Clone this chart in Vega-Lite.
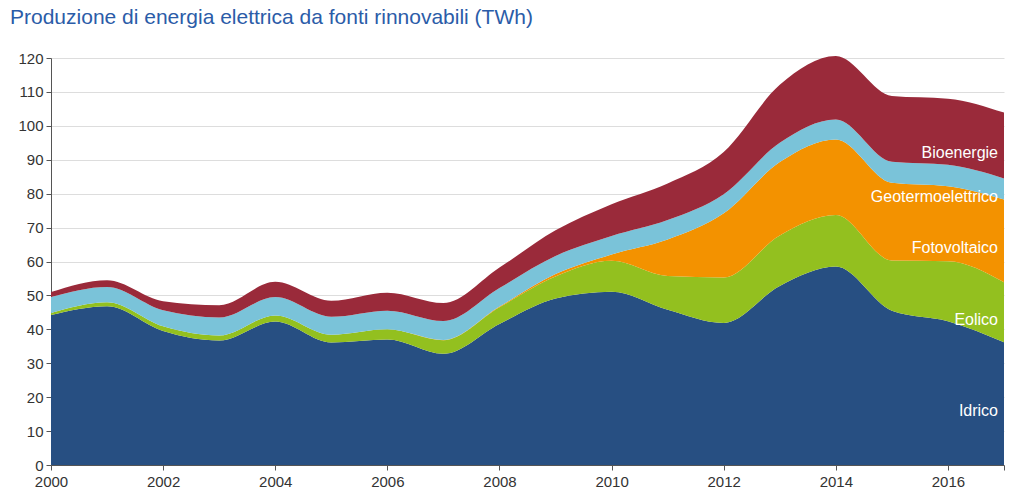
{
  "$schema": "https://vega.github.io/schema/vega-lite/v6.json",
  "width": 953,
  "height": 407,
  "autosize": {"type": "none"},
  "padding": {"left": 51, "top": 58, "right": 20, "bottom": 31},
  "background": "white",
  "title": {
    "text": "Produzione di energia elettrica da fonti rinnovabili (TWh)",
    "anchor": "start",
    "frame": "group",
    "dx": -41,
    "offset": 23,
    "font": "Liberation Sans",
    "fontSize": 21,
    "fontWeight": "normal",
    "color": "#2b5ca8"
  },
  "config": {
    "view": {"stroke": null},
    "axis": {
      "labelFont": "Liberation Sans",
      "labelFontSize": 15,
      "labelColor": "#333333",
      "domainColor": "#555555",
      "tickColor": "#555555",
      "tickSize": 5,
      "labelOverlap": false,
      "labelFlush": false,
      "title": null
    }
  },
  "datasets": {
    "prod": [
      {"year": 2000, "source": "Idrico", "value": 44.2},
      {"year": 2001, "source": "Idrico", "value": 46.8},
      {"year": 2002, "source": "Idrico", "value": 39.5},
      {"year": 2003, "source": "Idrico", "value": 36.7},
      {"year": 2004, "source": "Idrico", "value": 42.3},
      {"year": 2005, "source": "Idrico", "value": 36.1},
      {"year": 2006, "source": "Idrico", "value": 37.0},
      {"year": 2007, "source": "Idrico", "value": 32.8},
      {"year": 2008, "source": "Idrico", "value": 41.6},
      {"year": 2009, "source": "Idrico", "value": 49.1},
      {"year": 2010, "source": "Idrico", "value": 51.1},
      {"year": 2011, "source": "Idrico", "value": 45.8},
      {"year": 2012, "source": "Idrico", "value": 41.9},
      {"year": 2013, "source": "Idrico", "value": 52.8},
      {"year": 2014, "source": "Idrico", "value": 58.5},
      {"year": 2015, "source": "Idrico", "value": 45.5},
      {"year": 2016, "source": "Idrico", "value": 42.4},
      {"year": 2017, "source": "Idrico", "value": 36.2},
      {"year": 2000, "source": "Eolico", "value": 0.6},
      {"year": 2001, "source": "Eolico", "value": 1.2},
      {"year": 2002, "source": "Eolico", "value": 1.4},
      {"year": 2003, "source": "Eolico", "value": 1.5},
      {"year": 2004, "source": "Eolico", "value": 1.8},
      {"year": 2005, "source": "Eolico", "value": 2.3},
      {"year": 2006, "source": "Eolico", "value": 3.0},
      {"year": 2007, "source": "Eolico", "value": 4.0},
      {"year": 2008, "source": "Eolico", "value": 4.9},
      {"year": 2009, "source": "Eolico", "value": 6.5},
      {"year": 2010, "source": "Eolico", "value": 9.1},
      {"year": 2011, "source": "Eolico", "value": 9.9},
      {"year": 2012, "source": "Eolico", "value": 13.4},
      {"year": 2013, "source": "Eolico", "value": 14.9},
      {"year": 2014, "source": "Eolico", "value": 15.2},
      {"year": 2015, "source": "Eolico", "value": 14.8},
      {"year": 2016, "source": "Eolico", "value": 17.7},
      {"year": 2017, "source": "Eolico", "value": 17.7},
      {"year": 2000, "source": "Fotovoltaico", "value": 0.0},
      {"year": 2001, "source": "Fotovoltaico", "value": 0.0},
      {"year": 2002, "source": "Fotovoltaico", "value": 0.0},
      {"year": 2003, "source": "Fotovoltaico", "value": 0.0},
      {"year": 2004, "source": "Fotovoltaico", "value": 0.0},
      {"year": 2005, "source": "Fotovoltaico", "value": 0.0},
      {"year": 2006, "source": "Fotovoltaico", "value": 0.0},
      {"year": 2007, "source": "Fotovoltaico", "value": 0.04},
      {"year": 2008, "source": "Fotovoltaico", "value": 0.2},
      {"year": 2009, "source": "Fotovoltaico", "value": 0.7},
      {"year": 2010, "source": "Fotovoltaico", "value": 1.9},
      {"year": 2011, "source": "Fotovoltaico", "value": 10.8},
      {"year": 2012, "source": "Fotovoltaico", "value": 18.9},
      {"year": 2013, "source": "Fotovoltaico", "value": 21.6},
      {"year": 2014, "source": "Fotovoltaico", "value": 22.3},
      {"year": 2015, "source": "Fotovoltaico", "value": 22.9},
      {"year": 2016, "source": "Fotovoltaico", "value": 22.1},
      {"year": 2017, "source": "Fotovoltaico", "value": 24.4},
      {"year": 2000, "source": "Geotermoelettrico", "value": 4.7},
      {"year": 2001, "source": "Geotermoelettrico", "value": 4.5},
      {"year": 2002, "source": "Geotermoelettrico", "value": 4.7},
      {"year": 2003, "source": "Geotermoelettrico", "value": 5.3},
      {"year": 2004, "source": "Geotermoelettrico", "value": 5.4},
      {"year": 2005, "source": "Geotermoelettrico", "value": 5.3},
      {"year": 2006, "source": "Geotermoelettrico", "value": 5.5},
      {"year": 2007, "source": "Geotermoelettrico", "value": 5.6},
      {"year": 2008, "source": "Geotermoelettrico", "value": 5.5},
      {"year": 2009, "source": "Geotermoelettrico", "value": 5.3},
      {"year": 2010, "source": "Geotermoelettrico", "value": 5.4},
      {"year": 2011, "source": "Geotermoelettrico", "value": 5.7},
      {"year": 2012, "source": "Geotermoelettrico", "value": 5.6},
      {"year": 2013, "source": "Geotermoelettrico", "value": 5.7},
      {"year": 2014, "source": "Geotermoelettrico", "value": 5.9},
      {"year": 2015, "source": "Geotermoelettrico", "value": 6.2},
      {"year": 2016, "source": "Geotermoelettrico", "value": 6.3},
      {"year": 2017, "source": "Geotermoelettrico", "value": 6.2},
      {"year": 2000, "source": "Bioenergie", "value": 1.5},
      {"year": 2001, "source": "Bioenergie", "value": 2.0},
      {"year": 2002, "source": "Bioenergie", "value": 2.7},
      {"year": 2003, "source": "Bioenergie", "value": 3.6},
      {"year": 2004, "source": "Bioenergie", "value": 4.5},
      {"year": 2005, "source": "Bioenergie", "value": 4.7},
      {"year": 2006, "source": "Bioenergie", "value": 5.3},
      {"year": 2007, "source": "Bioenergie", "value": 5.3},
      {"year": 2008, "source": "Bioenergie", "value": 6.0},
      {"year": 2009, "source": "Bioenergie", "value": 7.6},
      {"year": 2010, "source": "Bioenergie", "value": 9.4},
      {"year": 2011, "source": "Bioenergie", "value": 10.8},
      {"year": 2012, "source": "Bioenergie", "value": 12.5},
      {"year": 2013, "source": "Bioenergie", "value": 17.1},
      {"year": 2014, "source": "Bioenergie", "value": 18.7},
      {"year": 2015, "source": "Bioenergie", "value": 19.4},
      {"year": 2016, "source": "Bioenergie", "value": 19.5},
      {"year": 2017, "source": "Bioenergie", "value": 19.4}
    ],
    "labels": [
      {"label": "Bioenergie", "year": 2017, "value": 92},
      {"label": "Geotermoelettrico", "year": 2017, "value": 79},
      {"label": "Fotovoltaico", "year": 2017, "value": 64},
      {"label": "Eolico", "year": 2017, "value": 42.7},
      {"label": "Idrico", "year": 2017, "value": 16}
    ]
  },
  "encoding": {
    "x": {
      "field": "year",
      "type": "quantitative",
      "scale": {"domain": [2000, 2017], "nice": false, "zero": false},
      "axis": {
        "values": [2000, 2002, 2004, 2006, 2008, 2010, 2012, 2014, 2016, 2017],
        "labelExpr": "datum.value == 2017 ? '' : datum.value",
        "grid": false,
        "labelPadding": 4
      }
    },
    "y": {
      "field": "value",
      "type": "quantitative",
      "scale": {"domain": [0, 120], "nice": false},
      "axis": {
        "values": [0, 10, 20, 30, 40, 50, 60, 70, 80, 90, 100, 110, 120],
        "grid": true,
        "gridColor": "#dddddd",
        "labelPadding": 3
      }
    }
  },
  "layer": [
    {
      "data": {"name": "prod"},
      "transform": [
        {"calculate": "indexof(['Idrico','Eolico','Fotovoltaico','Geotermoelettrico','Bioenergie'], datum.source)", "as": "stackOrder"}
      ],
      "mark": {"type": "area", "interpolate": "monotone"},
      "encoding": {
        "y": {
          "field": "value",
          "type": "quantitative",
          "stack": "zero",
          "scale": {"domain": [0, 120], "nice": false},
          "axis": {
            "values": [0, 10, 20, 30, 40, 50, 60, 70, 80, 90, 100, 110, 120],
            "grid": true,
            "gridColor": "#dddddd",
            "labelPadding": 3
          }
        },
        "order": {"field": "stackOrder", "type": "quantitative", "sort": "ascending"},
        "color": {
          "field": "source",
          "type": "nominal",
          "scale": {
            "domain": ["Idrico", "Eolico", "Fotovoltaico", "Geotermoelettrico", "Bioenergie"],
            "range": ["#274f82", "#93c01f", "#f39200", "#7ac3d9", "#9a2a3a"]
          },
          "legend": null
        }
      }
    },
    {
      "data": {"name": "labels"},
      "mark": {
        "type": "text",
        "align": "right",
        "baseline": "middle",
        "dx": -6,
        "font": "Liberation Sans",
        "fontSize": 16,
        "color": "white"
      },
      "encoding": {
        "text": {"field": "label"}
      }
    }
  ]
}
